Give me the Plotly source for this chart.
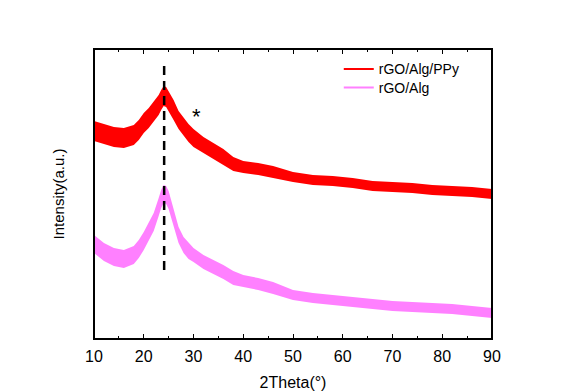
import plotly.graph_objects as go

# ---- data (intensity in arbitrary units) ----
two_theta = [10, 12, 14, 16, 18, 19, 20, 21, 22, 23, 23.5, 24, 24.5, 25, 26,
             27, 28, 29, 30, 32, 34, 36, 38, 40, 43, 46, 50, 54, 58, 62,
             66, 70, 74, 78, 82, 86, 90]

ppy_intensity = [208, 205, 202, 201, 204, 209, 216, 221, 227, 234, 239, 243, 242, 238, 229,
                 219, 212, 206, 201, 194, 188, 182, 175, 172, 170, 167, 162, 159, 158, 156,
                 153, 152, 151, 149, 148, 147, 145]
ppy_noise = [10, 10, 10, 10, 10, 10, 10, 10, 10, 10, 10, 10, 10, 10, 10,
             9, 9, 9, 9, 8, 8, 8, 7, 6, 6, 6, 5, 5, 5, 5,
             5, 5, 5, 5, 5, 5, 5]

alg_intensity = [95, 87, 82, 80, 84, 90, 98, 107, 117, 132, 140, 145, 144, 139, 121,
                 104, 94, 88, 84, 77, 72, 67, 61, 58, 55, 51, 44, 41, 39, 37,
                 35, 33, 32, 31, 30, 28, 26]
alg_noise = [9, 9, 9, 9, 9, 9, 9, 9, 9, 9, 9, 9, 9, 9, 9,
             8, 8, 8, 7, 7, 7, 7, 7, 6, 6, 6, 5, 5, 5, 5,
             5, 5, 5, 5, 5, 5, 5]

series_names = ["rGO/Alg/PPy", "rGO/Alg"]
peak_x = 24.1
peak_span = [69, 279]
star_pos = (30.7, 223)
x_ticks = [10, 20, 30, 40, 50, 60, 70, 80, 90]

RED = "#FF0000"
PINK = "#FF80FF"

fig = go.Figure()

def add_band(x, center, noise, color, name, legend):
    lower = [c - n for c, n in zip(center, noise)]
    upper = [c + n for c, n in zip(center, noise)]
    fig.add_trace(go.Scatter(x=x, y=lower, mode="lines", line=dict(width=0, color=color),
                             showlegend=False, hoverinfo="skip"))
    fig.add_trace(go.Scatter(x=x, y=upper, mode="lines", line=dict(width=0, color=color),
                             fill="tonexty", fillcolor=color, showlegend=False, hoverinfo="skip"))
    fig.add_trace(go.Scatter(x=x, y=center, mode="lines", line=dict(width=2, color=color),
                             name=name, legend=legend))

add_band(two_theta, ppy_intensity, ppy_noise, RED, series_names[0], "legend")
add_band(two_theta, alg_intensity, alg_noise, PINK, series_names[1], "legend2")

fig.add_shape(type="line", x0=peak_x, x1=peak_x, y0=peak_span[0], y1=peak_span[1],
              xref="x", yref="y", line=dict(color="black", width=2.5, dash="9px,6px"))

# plot frame
fig.add_shape(type="rect", x0=0, x1=1, y0=0, y1=1, xref="paper", yref="paper",
              line=dict(color="black", width=2), fillcolor="rgba(0,0,0,0)", layer="above")

fig.add_annotation(x=star_pos[0], y=star_pos[1], text="*", showarrow=False,
                   font=dict(size=22, color="black", family="Liberation Sans"))

leg_common = dict(x=0.615, xanchor="left", yanchor="middle",
                  bgcolor="rgba(0,0,0,0)", font=dict(size=14), itemwidth=30)

# the page body adds an 8px offset, so the figure is sized/margined to compensate
fig.update_layout(
    width=555, height=384,
    margin=dict(l=86, r=71, t=41, b=53, autoexpand=False),
    paper_bgcolor="white", plot_bgcolor="white",
    font=dict(family="Liberation Sans, Arial, sans-serif", color="black"),
    legend=dict(y=0.93, **leg_common),
    legend2=dict(y=0.866, **leg_common),
    showlegend=True,
)

fig.update_xaxes(range=[10, 90], tickvals=x_ticks, ticks="inside", ticklen=5,
                 tickcolor="black", showline=True, linecolor="black", linewidth=1,
                 mirror="all", showgrid=False, zeroline=False, automargin=False,
                 tickfont=dict(size=16), ticklabelstandoff=3,
                 minor=dict(dtick=5, ticks="inside", ticklen=3, tickcolor="black"),
                 title=dict(text="2Theta(°)", font=dict(size=16), standoff=12))
fig.update_yaxes(range=[0, 290], showticklabels=False, ticks="", showline=True,
                 linecolor="black", linewidth=1, mirror="all", showgrid=False,
                 zeroline=False, automargin=False,
                 title=dict(text="Intensity(a.u.)", font=dict(size=15), standoff=24))

fig.write_html("out.html")
